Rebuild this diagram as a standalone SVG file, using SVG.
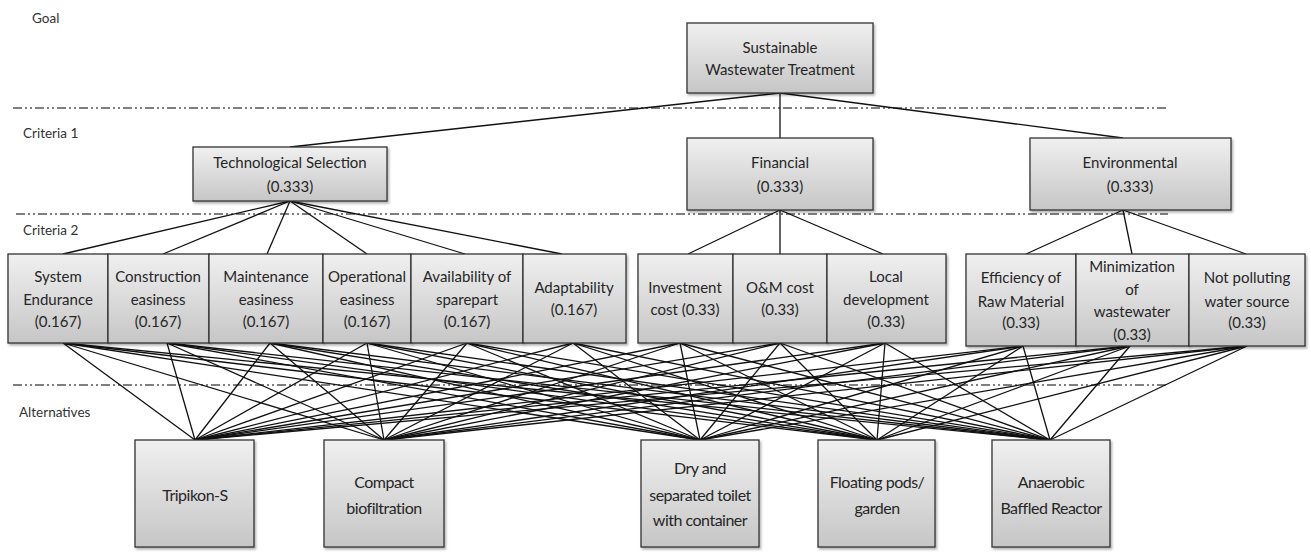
<svg xmlns="http://www.w3.org/2000/svg" width="1311" height="560" viewBox="0 0 1311 560">
<style>
.n{fill:url(#g);stroke:#333;stroke-width:1.3;filter:url(#sh)}
.t{font-family:Lato,"Open Sans","Liberation Sans",sans-serif;font-size:15px;fill:#262626;text-anchor:middle}
.a{font-family:Lato,"Open Sans","Liberation Sans",sans-serif;font-size:16px;letter-spacing:-0.5px;fill:#262626;text-anchor:middle}
.lv{font-family:Lato,"Open Sans","Liberation Sans",sans-serif;font-size:13.5px;fill:#333}
.d{stroke:#555;stroke-width:1.6;stroke-dasharray:9 3 2 3 2 3;fill:none}
#conn line{stroke:#111;stroke-width:1.3}
</style>
<defs>
<linearGradient id="g" x1="0" y1="0" x2="0" y2="1">
<stop offset="0" stop-color="#f0f0f0"/>
<stop offset="1" stop-color="#c6c6c6"/>
</linearGradient>
<filter id="sh" x="-10%" y="-10%" width="130%" height="130%">
<feDropShadow dx="1.5" dy="2" stdDeviation="1" flood-color="#000" flood-opacity="0.3"/>
</filter>
</defs>
<rect width="1311" height="560" fill="#fff"/>
<g id="levels">
<line class="d" x1="13" y1="108" x2="1166" y2="108"/>
<line class="d" x1="16" y1="214" x2="1168" y2="214"/>
<line class="d" x1="13" y1="385" x2="1166" y2="385"/>
<text class="lv" x="32" y="23">Goal</text>
<text class="lv" x="23" y="138">Criteria 1</text>
<text class="lv" x="23" y="235">Criteria 2</text>
<text class="lv" x="19" y="417">Alternatives</text>
</g>
<g id="conn">
<line x1="780" y1="93" x2="290" y2="147"/>
<line x1="780" y1="93" x2="780" y2="138"/>
<line x1="780" y1="93" x2="1123" y2="138"/>
<line x1="290" y1="201" x2="63" y2="254"/>
<line x1="290" y1="201" x2="163" y2="254"/>
<line x1="290" y1="201" x2="267" y2="254"/>
<line x1="290" y1="201" x2="367" y2="254"/>
<line x1="290" y1="201" x2="465" y2="254"/>
<line x1="290" y1="201" x2="562" y2="254"/>
<line x1="780" y1="210" x2="688" y2="254"/>
<line x1="780" y1="210" x2="780" y2="254"/>
<line x1="780" y1="210" x2="883" y2="254"/>
<line x1="1123" y1="210" x2="1026" y2="254"/>
<line x1="1123" y1="210" x2="1132" y2="254"/>
<line x1="1123" y1="210" x2="1246" y2="254"/>
<g id="c2alt">
<line x1="63" y1="343" x2="195" y2="440"/><line x1="63" y1="343" x2="384" y2="440"/><line x1="63" y1="343" x2="700" y2="440"/><line x1="63" y1="343" x2="877" y2="440"/><line x1="63" y1="343" x2="1050" y2="440"/>
<line x1="167" y1="343" x2="195" y2="440"/><line x1="167" y1="343" x2="384" y2="440"/><line x1="167" y1="343" x2="700" y2="440"/><line x1="167" y1="343" x2="877" y2="440"/><line x1="167" y1="343" x2="1050" y2="440"/>
<line x1="270" y1="343" x2="195" y2="440"/><line x1="270" y1="343" x2="384" y2="440"/><line x1="270" y1="343" x2="700" y2="440"/><line x1="270" y1="343" x2="877" y2="440"/><line x1="270" y1="343" x2="1050" y2="440"/>
<line x1="367" y1="343" x2="195" y2="440"/><line x1="367" y1="343" x2="384" y2="440"/><line x1="367" y1="343" x2="700" y2="440"/><line x1="367" y1="343" x2="877" y2="440"/><line x1="367" y1="343" x2="1050" y2="440"/>
<line x1="467" y1="343" x2="195" y2="440"/><line x1="467" y1="343" x2="384" y2="440"/><line x1="467" y1="343" x2="700" y2="440"/><line x1="467" y1="343" x2="877" y2="440"/><line x1="467" y1="343" x2="1050" y2="440"/>
<line x1="573" y1="343" x2="195" y2="440"/><line x1="573" y1="343" x2="384" y2="440"/><line x1="573" y1="343" x2="700" y2="440"/><line x1="573" y1="343" x2="877" y2="440"/><line x1="573" y1="343" x2="1050" y2="440"/>
<line x1="680" y1="343" x2="195" y2="440"/><line x1="680" y1="343" x2="384" y2="440"/><line x1="680" y1="343" x2="700" y2="440"/><line x1="680" y1="343" x2="877" y2="440"/><line x1="680" y1="343" x2="1050" y2="440"/>
<line x1="780" y1="343" x2="195" y2="440"/><line x1="780" y1="343" x2="384" y2="440"/><line x1="780" y1="343" x2="700" y2="440"/><line x1="780" y1="343" x2="877" y2="440"/><line x1="780" y1="343" x2="1050" y2="440"/>
<line x1="885" y1="343" x2="195" y2="440"/><line x1="885" y1="343" x2="384" y2="440"/><line x1="885" y1="343" x2="700" y2="440"/><line x1="885" y1="343" x2="877" y2="440"/><line x1="885" y1="343" x2="1050" y2="440"/>
<line x1="1023" y1="346" x2="195" y2="440"/><line x1="1023" y1="346" x2="384" y2="440"/><line x1="1023" y1="346" x2="700" y2="440"/><line x1="1023" y1="346" x2="877" y2="440"/><line x1="1023" y1="346" x2="1050" y2="440"/>
<line x1="1130" y1="346" x2="195" y2="440"/><line x1="1130" y1="346" x2="384" y2="440"/><line x1="1130" y1="346" x2="700" y2="440"/><line x1="1130" y1="346" x2="877" y2="440"/><line x1="1130" y1="346" x2="1050" y2="440"/>
<line x1="1247" y1="346" x2="195" y2="440"/><line x1="1247" y1="346" x2="384" y2="440"/><line x1="1247" y1="346" x2="700" y2="440"/><line x1="1247" y1="346" x2="877" y2="440"/><line x1="1247" y1="346" x2="1050" y2="440"/>
</g>
</g>
<g id="goal"><rect class="n" x="687" y="23" width="186" height="70"/><text class="t" x="780" y="53">Sustainable</text><text class="t" x="780" y="75">Wastewater Treatment</text></g>
<g id="tech"><rect class="n" x="193" y="147" width="194" height="54"/><text class="t" x="290" y="168">Technological Selection</text><text class="t" x="290" y="192">(0.333)</text></g>
<g id="financial"><rect class="n" x="687" y="138" width="186" height="72"/><text class="t" x="780" y="168">Financial</text><text class="t" x="780" y="192">(0.333)</text></g>
<g id="environmental"><rect class="n" x="1030" y="138" width="201" height="72"/><text class="t" x="1130" y="168">Environmental</text><text class="t" x="1130" y="192">(0.333)</text></g>
<g id="sysend"><rect class="n" x="8" y="254" width="100" height="89"/><text class="t" x="58" y="282">System</text><text class="t" x="58" y="305">Endurance</text><text class="t" x="58" y="327">(0.167)</text></g>
<g id="constr"><rect class="n" x="108" y="254" width="101" height="89"/><text class="t" x="158" y="282">Construction</text><text class="t" x="158" y="305">easiness</text><text class="t" x="158" y="327">(0.167)</text></g>
<g id="maint"><rect class="n" x="209" y="254" width="114" height="89"/><text class="t" x="266" y="282">Maintenance</text><text class="t" x="266" y="305">easiness</text><text class="t" x="266" y="327">(0.167)</text></g>
<g id="oper"><rect class="n" x="323" y="254" width="88" height="89"/><text class="t" x="367" y="282">Operational</text><text class="t" x="367" y="305">easiness</text><text class="t" x="367" y="327">(0.167)</text></g>
<g id="avail"><rect class="n" x="411" y="254" width="112" height="89"/><text class="t" x="467" y="282">Availability of</text><text class="t" x="467" y="305">sparepart</text><text class="t" x="467" y="327">(0.167)</text></g>
<g id="adapt"><rect class="n" x="523" y="254" width="103" height="89"/><text class="t" x="574" y="293">Adaptability</text><text class="t" x="574" y="315">(0.167)</text></g>
<g id="invest"><rect class="n" x="638" y="254" width="95" height="89"/><text class="t" x="685" y="293">Investment</text><text class="t" x="685" y="315">cost (0.33)</text></g>
<g id="om"><rect class="n" x="733" y="254" width="94" height="89"/><text class="t" x="780" y="293">O&amp;M cost</text><text class="t" x="780" y="315">(0.33)</text></g>
<g id="local"><rect class="n" x="827" y="254" width="119" height="89"/><text class="t" x="886" y="282">Local</text><text class="t" x="886" y="305">development</text><text class="t" x="886" y="327">(0.33)</text></g>
<g id="effic"><rect class="n" x="966" y="254" width="110" height="92"/><text class="t" x="1021" y="283">Efficiency of</text><text class="t" x="1021" y="307">Raw Material</text><text class="t" x="1021" y="328">(0.33)</text></g>
<g id="minim"><rect class="n" x="1076" y="254" width="113" height="92"/><text class="t" x="1132" y="272">Minimization</text><text class="t" x="1132" y="295">of</text><text class="t" x="1132" y="317">wastewater</text><text class="t" x="1132" y="340">(0.33)</text></g>
<g id="notpoll"><rect class="n" x="1189" y="254" width="116" height="92"/><text class="t" x="1247" y="283">Not polluting</text><text class="t" x="1247" y="307">water source</text><text class="t" x="1247" y="328">(0.33)</text></g>
<g id="tripikon"><rect class="n" x="135" y="440" width="119" height="107"/><text class="a" x="195" y="501">Tripikon-S</text></g>
<g id="compact"><rect class="n" x="324" y="440" width="120" height="107"/><text class="a" x="384" y="488">Compact</text><text class="a" x="384" y="514">biofiltration</text></g>
<g id="dry"><rect class="n" x="641" y="440" width="118" height="107"/><text class="a" x="700" y="474">Dry and</text><text class="a" x="700" y="501">separated toilet</text><text class="a" x="700" y="526">with container</text></g>
<g id="floating"><rect class="n" x="818" y="440" width="117" height="107"/><text class="a" x="877" y="488">Floating pods/</text><text class="a" x="877" y="514">garden</text></g>
<g id="abr"><rect class="n" x="992" y="440" width="118" height="107"/><text class="a" x="1051" y="488">Anaerobic</text><text class="a" x="1051" y="514">Baffled Reactor</text></g>
</svg>
